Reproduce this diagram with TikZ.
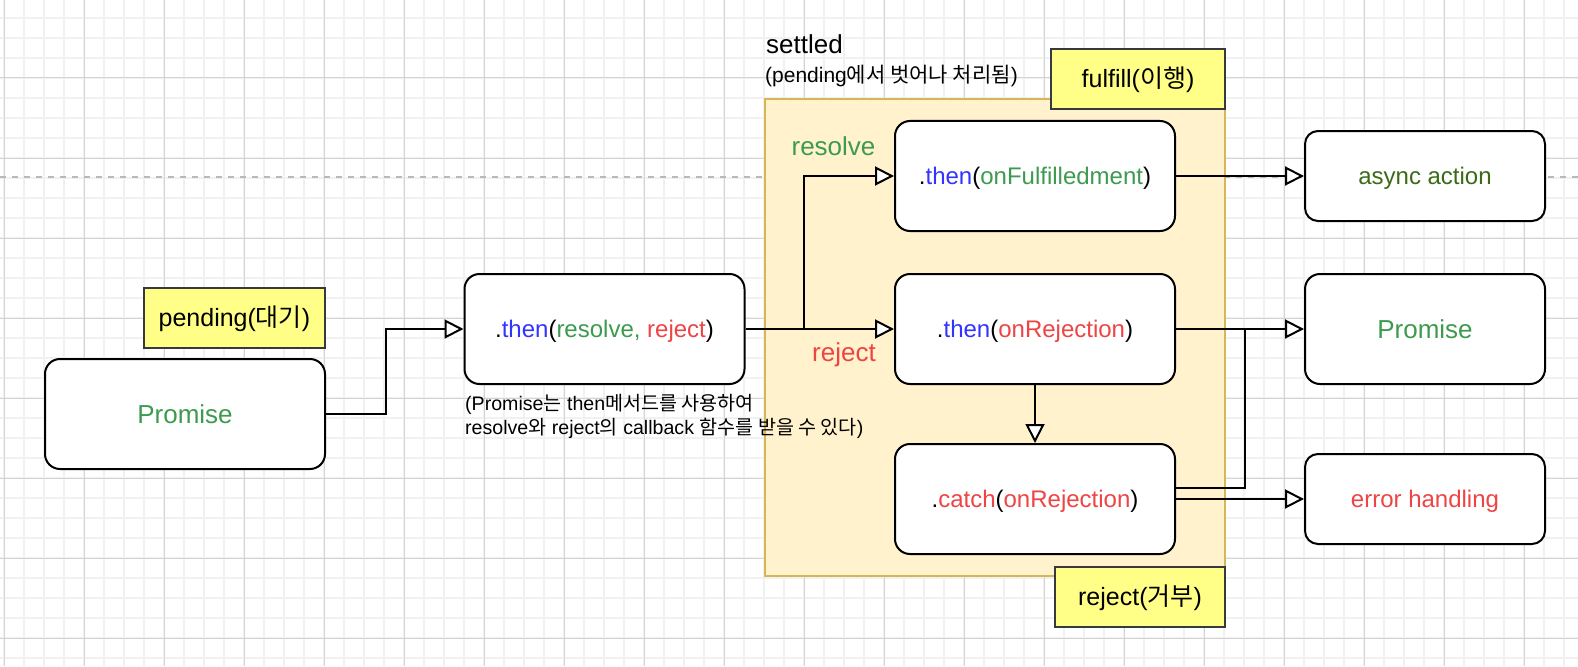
\documentclass[tikz,border=0pt]{standalone}
\usepackage{fontspec}
\setmainfont{Liberation Sans}
\newfontfamily\kr{Noto Sans CJK KR}
\usetikzlibrary{arrows.meta}

\definecolor{jsblue}{HTML}{3333FF}
\definecolor{okgreen}{HTML}{3D9B4F}
\definecolor{errred}{HTML}{EE4444}
\definecolor{darkgreen}{HTML}{3B6B17}
\definecolor{gridminor}{HTML}{F1F1F1}
\definecolor{gridmajor}{HTML}{D4D4D4}
\definecolor{zonefill}{HTML}{FFF2CC}
\definecolor{zoneedge}{HTML}{D6B656}
\definecolor{notefill}{HTML}{FFFF88}
\definecolor{noteedge}{HTML}{36393D}

\tikzset{
  box/.style={draw=black, line width=2pt, fill=white, rounded corners=15pt,
    minimum width=280pt, minimum height=110pt, inner sep=0pt,
    text height=21.7pt, text depth=5.1pt,
    font=\fontsize{24}{29}\selectfont},
  bigtext/.style={text height=23.5pt, text depth=5.5pt, font=\fontsize{26}{30}\selectfont},
  smallbox/.style={box, minimum width=240pt, minimum height=90pt, rounded corners=13pt},
  note/.style={draw=noteedge, line width=2pt, fill=notefill, minimum height=60pt,
    inner sep=0pt, text height=22.6pt, text depth=5.3pt,
    font=\fontsize{25}{30}\selectfont},
  zone/.style={draw=zoneedge, line width=2pt, fill=zonefill, inner sep=0pt},
  link/.style={line width=2pt, -{Triangle[length=19pt,width=19pt,fill=white]}},
  plain/.style={line width=2pt},
  caption/.style={anchor=base west, inner sep=0pt, font=\fontsize{19.6}{24}\selectfont},
  tag/.style={anchor=base, inner sep=0pt, font=\fontsize{26}{30}\selectfont},
}

\begin{document}
\begin{tikzpicture}[x=1pt,y=-1pt]
  \useasboundingbox (0,0) rectangle (1578,666);
  \fill[white] (0,0) rectangle (1578,666);

  % background grid
  \foreach \gx in {4,24,...,1578} \draw[gridminor, line width=1.3pt] (\gx,0) -- (\gx,666);
  \foreach \gy in {18,38,...,666} \draw[gridminor, line width=1.3pt] (0,\gy) -- (1578,\gy);
  \foreach \gx in {4,84,...,1578} \draw[gridmajor, line width=1pt] (\gx,0) -- (\gx,666);
  \foreach \gy in {78,158,...,666} \draw[gridmajor, line width=1pt] (0,\gy) -- (1578,\gy);

  % dashed guide line
  \draw[gray!55, line width=2pt, dash pattern=on 6pt off 6pt] (0,176.5) -- (1578,176.5);

  % settled zone
  \node[zone, minimum width=460pt, minimum height=477pt] (zone) at (995,337.5) {};
  \node[anchor=base west, inner sep=0pt, font=\fontsize{26}{30}\selectfont] (settledtitle) at (766,54) {settled};
  \node[caption, font=\fontsize{21}{25}\selectfont] (settledsub) at (765,83) {(pending{\kr 에서 벗어나 처리됨})};

  % boxes
  \node[box, bigtext] (prom) at (185,414) {\textcolor{okgreen}{Promise}};
  \node[box] (thenRR) at (604.5,329) {.\textcolor{jsblue}{then}(\textcolor{okgreen}{resolve,} \textcolor{errred}{reject})};
  \node[box] (thenF) at (1035,176) {.\textcolor{jsblue}{then}(\textcolor{okgreen}{onFulfilledment})};
  \node[box] (thenR) at (1035,329) {.\textcolor{jsblue}{then}(\textcolor{errred}{onRejection})};
  \node[box] (catch) at (1035,499) {.\textcolor{errred}{catch}(\textcolor{errred}{onRejection})};
  \node[smallbox] (async) at (1425,176) {\textcolor{darkgreen}{async action}};
  \node[box, bigtext, minimum width=240pt] (promR) at (1425,329) {\textcolor{okgreen}{Promise}};
  \node[smallbox] (err) at (1425,499) {\textcolor{errred}{error handling}};

  % state notes
  \node[note, minimum width=181pt] (pend) at (234.5,318) {pending({\kr 대기})};
  \node[note, minimum width=174pt] (fulfill) at (1138,79) {fulfill({\kr 이행})};
  \node[note, minimum width=170pt] (rejnote) at (1140,597) {reject({\kr 거부})};

  % caption under .then(resolve, reject)
  \node[caption] (cap1) at (465,410) {(Promise{\kr 는} then{\kr 메서드를 사용하여}};
  \node[caption] (cap2) at (465,434) {resolve{\kr 와} reject{\kr 의} callback {\kr 함수를 받을 수 있다})};

  % connectors
  \coordinate (split) at (804,329);
  \coordinate (merge) at (1245,329);
  \draw[link] (prom.east) -- ++(60,0) |- (thenRR.west);
  \draw[link] (thenRR.east) -- (thenR.west);
  \draw[link] (split) |- (thenF.west);
  \draw[link] (thenF.east) -- (async.west);
  \draw[link] (thenR.east) -- (promR.west);
  \draw[link] (thenR.south) -- (catch.north);
  \draw[link] (catch.east) -- (err.west);
  \draw[plain] ([yshift=11pt]catch.east) -| (merge);

  % branch labels
  \node[tag, text=okgreen] (lblres) at (833.5,155) {resolve};
  \node[tag, text=errred] (lblrej) at (844,361) {reject};
\end{tikzpicture}
\end{document}
